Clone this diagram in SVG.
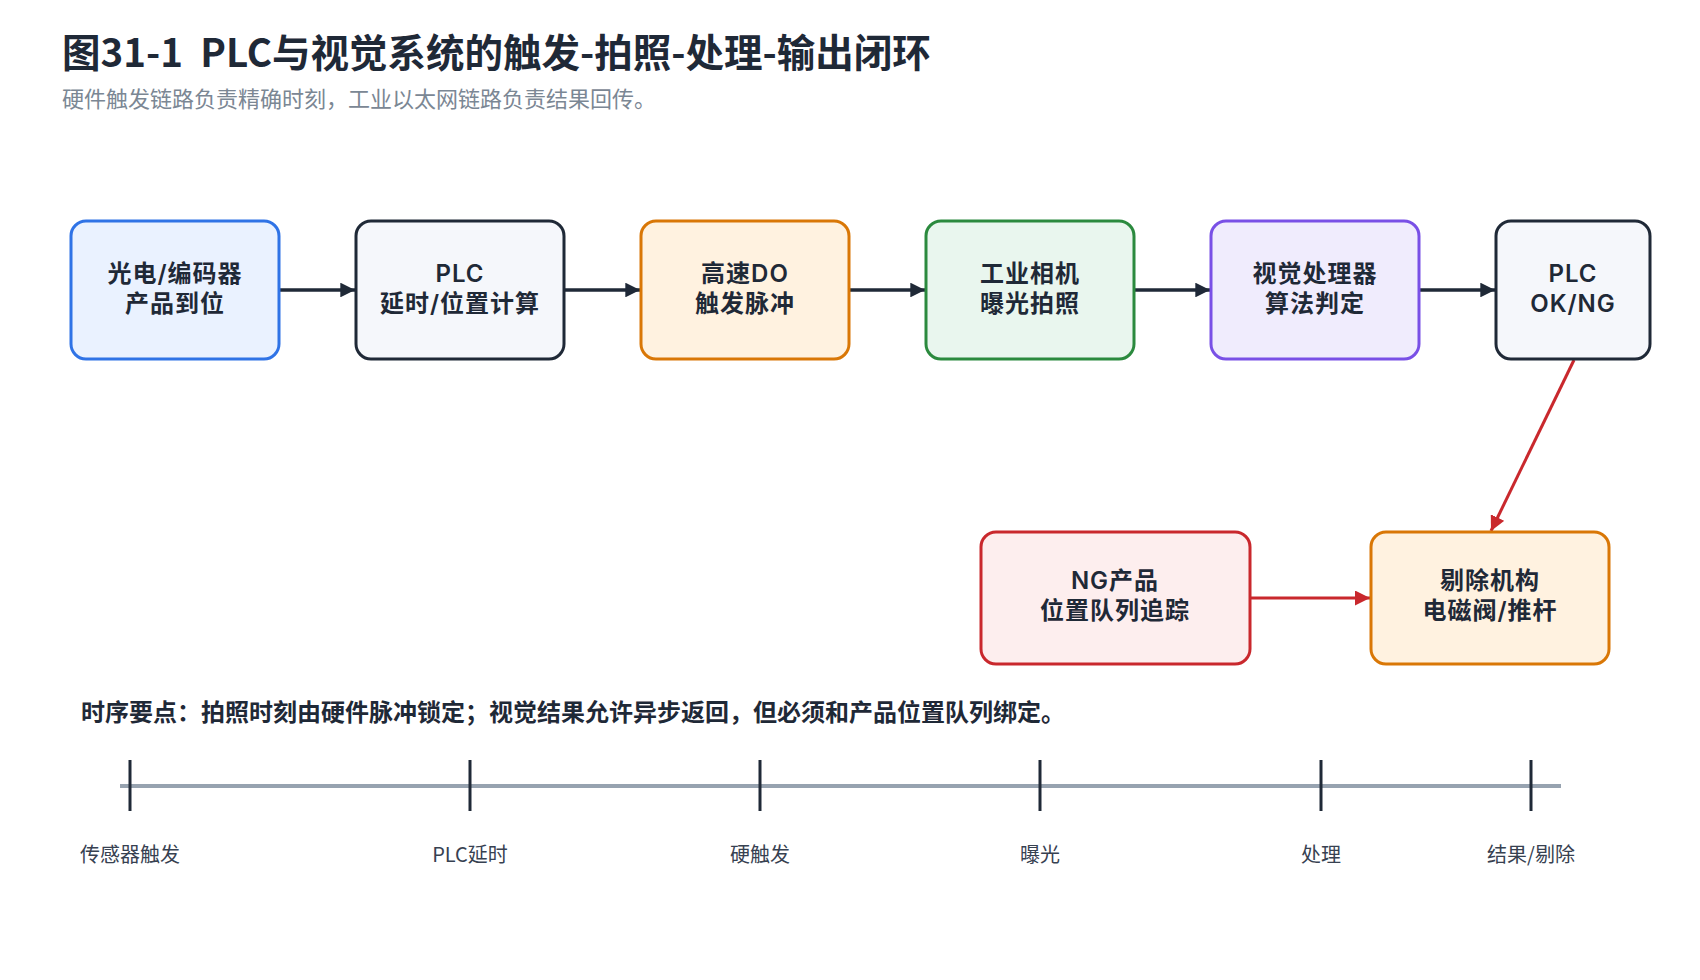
<svg xmlns="http://www.w3.org/2000/svg" width="1700" height="980" viewBox="0 0 1700 980">
<defs>
<marker id="ah" viewBox="0 0 10 10" refX="10" refY="5" markerWidth="4.2" markerHeight="4.2" orient="auto" markerUnits="strokeWidth">
<path d="M0,0 L10,5 L0,10 z" fill="#1f2937"/>
</marker>
<marker id="ahr" viewBox="0 0 10 10" refX="10" refY="5" markerWidth="5" markerHeight="5" orient="auto" markerUnits="strokeWidth">
<path d="M0,0 L10,5 L0,10 z" fill="#c9282d"/>
</marker>
<style>
.title{font-family:"Noto Sans CJK SC","Noto Sans",sans-serif;font-weight:700;font-size:38.5px;fill:#1f2937}
.sub{font-family:"Noto Sans CJK SC","Noto Sans",sans-serif;font-size:22px;fill:#7b8794}
.box{stroke-width:3}
.lbl{font-family:Inter,"Noto Sans CJK SC",sans-serif;font-weight:600;font-size:24px;letter-spacing:1px;fill:#1f2937;text-anchor:middle;dominant-baseline:central}
.note{font-family:"Noto Sans CJK SC","Noto Sans",sans-serif;font-weight:700;font-size:24px;fill:#1f2937}
.tl{font-family:"Noto Sans CJK SC","Noto Sans",sans-serif;font-size:20px;fill:#374151;text-anchor:middle;dominant-baseline:central}
.edge{fill:none;stroke:#1f2937;stroke-width:3.5;marker-end:url(#ah)}
.edger{fill:none;stroke:#c9282d;stroke-width:3;marker-end:url(#ahr)}
.tick{stroke:#1f2937;stroke-width:3}
</style>
</defs>
<rect width="1700" height="980" fill="#ffffff"/>
<text class="title" x="62" y="67" xml:space="preserve">图31-1  PLC与视觉系统的触发-拍照-处理-输出闭环</text>
<text class="sub" x="62" y="107">硬件触发链路负责精确时刻，工业以太网链路负责结果回传。</text>

<g id="edges">
<line class="edge" x1="280" y1="290" x2="355" y2="290"/>
<line class="edge" x1="565" y1="290" x2="640" y2="290"/>
<line class="edge" x1="850" y1="290" x2="925" y2="290"/>
<line class="edge" x1="1135" y1="290" x2="1210" y2="290"/>
<line class="edge" x1="1420" y1="290" x2="1495" y2="290"/>
<line class="edger" x1="1574" y1="360" x2="1491" y2="531"/>
<line class="edger" x1="1251" y1="598" x2="1370" y2="598"/>
</g>

<g id="n1"><rect class="box" x="71" y="221" width="208" height="138" rx="15" fill="#eaf2ff" stroke="#2f73e6"/>
<text class="lbl" x="175" y="273">光电/编码器</text><text class="lbl" x="175" y="303">产品到位</text></g>
<g id="n2"><rect class="box" x="356" y="221" width="208" height="138" rx="15" fill="#f5f7fb" stroke="#1f2937"/>
<text class="lbl" x="460" y="273">PLC</text><text class="lbl" x="460" y="303">延时/位置计算</text></g>
<g id="n3"><rect class="box" x="641" y="221" width="208" height="138" rx="15" fill="#fff2e0" stroke="#d97706"/>
<text class="lbl" x="745" y="273">高速DO</text><text class="lbl" x="745" y="303">触发脉冲</text></g>
<g id="n4"><rect class="box" x="926" y="221" width="208" height="138" rx="15" fill="#e9f6ee" stroke="#2b8a3e"/>
<text class="lbl" x="1030" y="273">工业相机</text><text class="lbl" x="1030" y="303">曝光拍照</text></g>
<g id="n5"><rect class="box" x="1211" y="221" width="208" height="138" rx="15" fill="#f0ecfd" stroke="#7950e6"/>
<text class="lbl" x="1315" y="273">视觉处理器</text><text class="lbl" x="1315" y="303">算法判定</text></g>
<g id="n6"><rect class="box" x="1496" y="221" width="154" height="138" rx="15" fill="#f5f7fb" stroke="#1f2937"/>
<text class="lbl" x="1573" y="273">PLC</text><text class="lbl" x="1573" y="303">OK/NG</text></g>
<g id="n7"><rect class="box" x="981" y="532" width="269" height="132" rx="15" fill="#fdeeee" stroke="#c9282d"/>
<text class="lbl" x="1115" y="580">NG产品</text><text class="lbl" x="1115" y="610">位置队列追踪</text></g>
<g id="n8"><rect class="box" x="1371" y="532" width="238" height="132" rx="15" fill="#fff2e0" stroke="#d97706"/>
<text class="lbl" x="1490" y="580">剔除机构</text><text class="lbl" x="1490" y="610">电磁阀/推杆</text></g>

<text class="note" x="81" y="721">时序要点：拍照时刻由硬件脉冲锁定；视觉结果允许异步返回，但必须和产品位置队列绑定。</text>

<g id="timeline">
<line x1="120" y1="786" x2="1561" y2="786" stroke="#97a3b0" stroke-width="4"/>
<line class="tick" x1="130" y1="760" x2="130" y2="811"/>
<line class="tick" x1="470" y1="760" x2="470" y2="811"/>
<line class="tick" x1="760" y1="760" x2="760" y2="811"/>
<line class="tick" x1="1040" y1="760" x2="1040" y2="811"/>
<line class="tick" x1="1321" y1="760" x2="1321" y2="811"/>
<line class="tick" x1="1531" y1="760" x2="1531" y2="811"/>
<text class="tl" x="130" y="853">传感器触发</text>
<text class="tl" x="470" y="853">PLC延时</text>
<text class="tl" x="760" y="853">硬触发</text>
<text class="tl" x="1040" y="853">曝光</text>
<text class="tl" x="1321" y="853">处理</text>
<text class="tl" x="1531" y="853">结果/剔除</text>
</g>
</svg>
